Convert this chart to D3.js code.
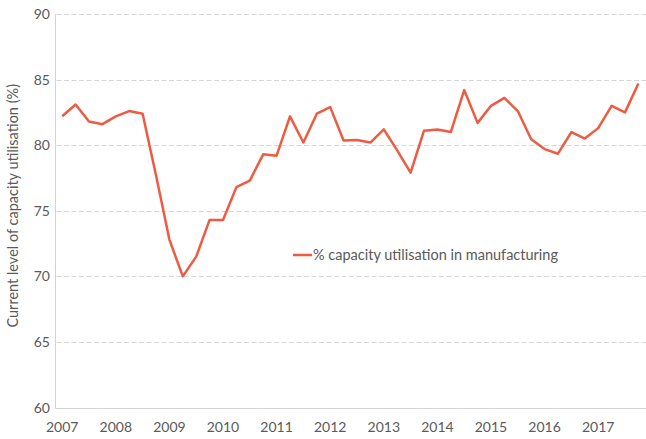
<!DOCTYPE html>
<html>
<head>
<meta charset="utf-8">
<script src="https://cdn.jsdelivr.net/npm/d3@7"></script>
<style>
  body { margin: 0; background: #fff; }
  svg { display: block; font-family: Lato, "Open Sans", sans-serif; }
</style>
</head>
<body>
<div id="chart"></div>
<script>
// quarterly series, 2007 Q1 .. 2017 Q4
const years = [2007, 2008, 2009, 2010, 2011, 2012, 2013, 2014, 2015, 2016, 2017];
const quarters = [0, 0.25, 0.5, 0.75];
const utilisation = [
  82.2, 83.1, 81.8, 81.6,   // 2007
  82.2, 82.6, 82.4, 77.7,   // 2008
  72.8, 70.0, 71.5, 74.3,   // 2009
  74.3, 76.8, 77.3, 79.3,   // 2010
  79.2, 82.2, 80.2, 82.4,   // 2011
  82.9, 80.35, 80.4, 80.2,  // 2012
  81.2, 79.6, 77.9, 81.1,   // 2013
  81.2, 81.0, 84.2, 81.7,   // 2014
  83.0, 83.6, 82.6, 80.45,  // 2015
  79.7, 79.35, 81.0, 80.5,  // 2016
  81.3, 83.0, 82.5, 84.7    // 2017
];
const yTicks = [60, 65, 70, 75, 80, 85, 90];
const seriesName = "% capacity utilisation in manufacturing";
const yTitle = "Current level of capacity utilisation (%)";

const width = 646, height = 439;
const tickSize = 14;
const labelSize = 14.5;
const textColor = "#5a5a5a";
const data = utilisation.map((v, i) => ({ t: years[Math.floor(i / 4)] + quarters[i % 4], v }));

const svg = d3.select("#chart").append("svg")
    .attr("width", width)
    .attr("height", height);

const x = d3.scaleLinear()
    .domain([2007, 2017.75])
    .range([62.2, 638.4]);

const y = d3.scaleLinear()
    .domain([60, 90])
    .range([407.5, 14]);

const axisLeft = 55.5;

// dashed gridlines
svg.append("g")
  .selectAll("line")
  .data(yTicks.filter(d => d !== 60))
  .join("line")
    .attr("x1", axisLeft + 1)
    .attr("x2", width)
    .attr("y1", d => Math.round(y(d)) + 0.5)
    .attr("y2", d => Math.round(y(d)) + 0.5)
    .attr("stroke", "#d6d6d6")
    .attr("stroke-width", 1)
    .attr("stroke-dasharray", "5,2.5");

// axes lines
svg.append("line")
    .attr("x1", axisLeft).attr("x2", axisLeft)
    .attr("y1", Math.round(y(90))).attr("y2", Math.round(y(60)) + 0.5)
    .attr("stroke", "#d3d3d3");

svg.append("line")
    .attr("x1", axisLeft).attr("x2", width)
    .attr("y1", Math.round(y(60)) + 0.5).attr("y2", Math.round(y(60)) + 0.5)
    .attr("stroke", "#d3d3d3");

// y tick labels
svg.append("g")
  .selectAll("text")
  .data(yTicks)
  .join("text")
    .attr("x", 50)
    .attr("y", d => y(d))
    .attr("dy", "0.36em")
    .attr("text-anchor", "end")
    .attr("font-size", tickSize)
    .attr("fill", textColor)
    .text(d => d);

// x tick labels
svg.append("g")
  .selectAll("text")
  .data(years)
  .join("text")
    .attr("x", d => x(d))
    .attr("y", 432)
    .attr("text-anchor", "middle")
    .attr("font-size", tickSize)
    .attr("fill", textColor)
    .text(d => d);

// y title
svg.append("text")
    .attr("transform", `translate(18,${(y(90) + y(60)) / 2 - 5}) rotate(-90)`)
    .attr("text-anchor", "middle")
    .attr("font-size", labelSize)
    .attr("fill", textColor)
    .text(yTitle);

// series line
svg.append("path")
    .datum(data)
    .attr("fill", "none")
    .attr("stroke", "#ef5a42")
    .attr("stroke-width", 2.5)
    .attr("stroke-linejoin", "round")
    .attr("d", d3.line().x(d => x(d.t)).y(d => y(d.v)));

// legend
const legend = svg.append("g").attr("transform", "translate(293,255)");
legend.append("line")
    .attr("x1", 0).attr("x2", 19)
    .attr("stroke", "#ef5a42")
    .attr("stroke-width", 2.5);
legend.append("text")
    .attr("x", 20)
    .attr("dy", "0.36em")
    .attr("font-size", labelSize)
    .attr("fill", textColor)
    .text(seriesName);
</script>
</body>
</html>
